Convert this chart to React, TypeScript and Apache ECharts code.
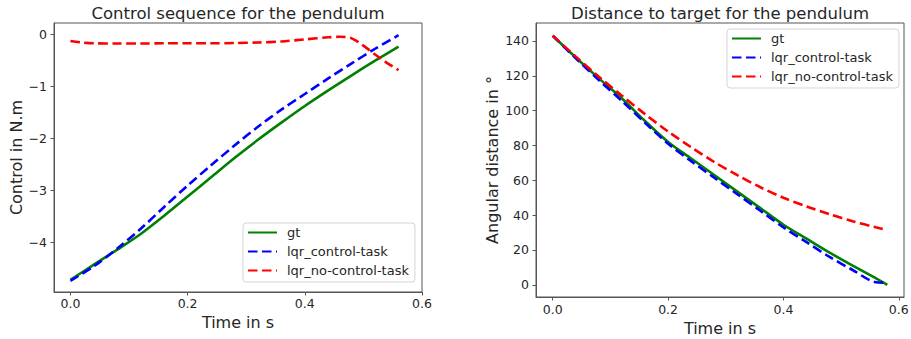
import React, { useEffect, useRef } from "react";
import * as echarts from "echarts";

// ---- Left panel: control sequence ----
const leftTime = [0, 0.04, 0.08, 0.12, 0.16, 0.2, 0.24, 0.28, 0.32, 0.36, 0.4, 0.44, 0.48, 0.52, 0.56];
const leftGt = [-4.72, -4.43, -4.14, -3.84, -3.49, -3.12, -2.75, -2.38, -2.03, -1.7, -1.38, -1.08, -0.79, -0.51, -0.24];
const leftLqrControl = [-4.74, -4.46, -4.12, -3.74, -3.32, -2.91, -2.52, -2.14, -1.78, -1.45, -1.15, -0.85, -0.56, -0.28, -0.02];
const leftNoCtrlTime = [0, 0.02, 0.04, 0.08, 0.12, 0.16, 0.2, 0.24, 0.28, 0.32, 0.36, 0.4, 0.44, 0.46, 0.48, 0.5, 0.52, 0.54, 0.56];
const leftLqrNoControl = [-0.13, -0.16, -0.175, -0.18, -0.18, -0.175, -0.175, -0.175, -0.17, -0.16, -0.14, -0.1, -0.06, -0.05, -0.08, -0.22, -0.39, -0.55, -0.69];

// ---- Right panel: distance to target ----
const rightTime = [0, 0.04, 0.08, 0.12, 0.16, 0.2, 0.24, 0.28, 0.32, 0.36, 0.4, 0.44, 0.48, 0.52, 0.56, 0.58];
const rightGt = [143, 130.5, 118.5, 107, 94, 82, 72.5, 63, 53.5, 44, 34.5, 26.5, 18.5, 11, 3.8, 0];
const rightLqrControl = [143, 130, 117.5, 105.5, 93, 81, 71, 61.5, 52, 42.5, 33, 24.5, 16, 8.5, 1.5, 1.2];
const rightLqrNoControl = [143, 131, 119.5, 108.5, 98, 88, 79, 70.5, 63, 56, 50, 45, 40.5, 36.5, 33, 31.5];

// ---- Ticks ----
const xTicks = [0, 0.2, 0.4, 0.6];
const leftYTicks = [-4, -3, -2, -1, 0];
const rightYTicks = [0, 20, 40, 60, 80, 100, 120, 140];

const seriesNames = ["gt", "lqr_control-task", "lqr_no-control-task"];

const FONT = "DejaVu Sans";
const TEXT = "#262626";
const SPINE = "#555555";

const pair = (xs: number[], ys: number[]) => xs.map((x, i) => [x, ys[i]]);

export default function App() {
  const ref = useRef<HTMLDivElement>(null);

  useEffect(() => {
    if (!ref.current) return;
    const chart = echarts.init(ref.current, undefined, { renderer: "svg" });

    const xAxisBase = (gridIndex: number, min: number, max: number, margin: number, nameGap: number) => ({
      type: "value",
      gridIndex,
      min,
      max,
      name: "Time in s",
      nameLocation: "middle",
      nameGap,
      nameTextStyle: { fontFamily: FONT, fontSize: 16, color: TEXT },
      axisLine: { show: true, onZero: false, lineStyle: { color: SPINE, width: 1 } },
      axisTick: { show: true, customValues: xTicks, length: 3.5, lineStyle: { color: SPINE } },
      axisLabel: {
        customValues: xTicks,
        formatter: (v: number) => v.toFixed(1),
        margin,
        fontFamily: FONT,
        fontSize: 12.5,
        color: TEXT,
      },
      splitLine: { show: false },
    });

    const yAxisBase = (gridIndex: number, min: number, max: number, ticks: number[], name: string, nameGap: number) => ({
      type: "value",
      gridIndex,
      min,
      max,
      name,
      nameLocation: "middle",
      nameGap,
      nameTextStyle: { fontFamily: FONT, fontSize: 16, color: TEXT },
      axisLine: { show: true, onZero: false, lineStyle: { color: SPINE, width: 1 } },
      axisTick: { show: true, customValues: ticks, length: 3.5, lineStyle: { color: SPINE } },
      axisLabel: {
        customValues: ticks,
        formatter: (v: number) => (v < 0 ? "\u2212" + Math.abs(v) : String(v)),
        margin: 7,
        fontFamily: FONT,
        fontSize: 12.5,
        color: TEXT,
      },
      splitLine: { show: false },
    });

    const lineSeries = (name: string, data: number[][], idx: number, color: string, dashed: boolean) => ({
      type: "line",
      name,
      xAxisIndex: idx,
      yAxisIndex: idx,
      data,
      symbol: "none",
      smooth: 0.3,
      lineStyle: { color, width: 2.6, type: dashed ? [9.5, 4.5] : "solid" },
      itemStyle: { color },
      z: dashed ? 3 : 2,
    });

    const legendBase = (left: number, top: number) => ({
      data: seriesNames,
      left,
      top,
      orient: "vertical",
      itemWidth: 29,
      itemHeight: 14,
      itemGap: 6,
      padding: [3, 6, 5, 4],
      borderColor: "#d5d5d5",
      borderWidth: 1,
      borderRadius: 3,
      backgroundColor: "rgba(255,255,255,0.8)",
      selectedMode: false,
      itemStyle: { opacity: 0 },
      lineStyle: { inherit: true, opacity: 1 },
      textStyle: { fontFamily: FONT, fontSize: 13, color: TEXT, padding: [0, 0, 0, 5] },
    });

    chart.setOption({
      animation: false,
      backgroundColor: "#ffffff",
      graphic: [
        {
          type: "text",
          x: 238,
          y: 13,
          style: {
            text: "Control sequence for the pendulum",
            font: `16.5px "${FONT}"`,
            fill: TEXT,
            textAlign: "center",
            textVerticalAlign: "middle",
          },
        },
        {
          type: "text",
          x: 720,
          y: 13,
          style: {
            text: "Distance to target for the pendulum",
            font: `16.5px "${FONT}"`,
            fill: TEXT,
            textAlign: "center",
            textVerticalAlign: "middle",
          },
        },
      ],
      grid: [
        { left: 54, top: 23, width: 368, height: 269, show: true, borderColor: SPINE, borderWidth: 1, backgroundColor: "transparent", outerBoundsMode: "none" },
        { left: 536, top: 23, width: 368, height: 274, show: true, borderColor: SPINE, borderWidth: 1, backgroundColor: "transparent", outerBoundsMode: "none" },
      ],
      xAxis: [xAxisBase(0, -0.028, 0.6, 5, 21), xAxisBase(1, -0.029, 0.609, 6, 22)],
      yAxis: [
        yAxisBase(0, -4.955, 0.215, leftYTicks, "Control in N.m", 30),
        yAxisBase(1, -7, 150.3, rightYTicks, "Angular distance in \u00b0", 36),
      ],
      legend: [legendBase(243, 223), legendBase(727, 29)],
      series: [
        lineSeries(seriesNames[0], pair(leftTime, leftGt), 0, "#008000", false),
        lineSeries(seriesNames[1], pair(leftTime, leftLqrControl), 0, "#0000ff", true),
        lineSeries(seriesNames[2], pair(leftNoCtrlTime, leftLqrNoControl), 0, "#ff0000", true),
        lineSeries(seriesNames[0], pair(rightTime, rightGt), 1, "#008000", false),
        lineSeries(seriesNames[1], pair(rightTime, rightLqrControl), 1, "#0000ff", true),
        lineSeries(seriesNames[2], pair(rightTime, rightLqrNoControl), 1, "#ff0000", true),
      ],
    });

    return () => chart.dispose();
  }, []);

  return (
    <div
      ref={ref}
      style={{ position: "absolute", left: 0, top: 0, width: 911, height: 339, background: "#fff" }}
    />
  );
}
